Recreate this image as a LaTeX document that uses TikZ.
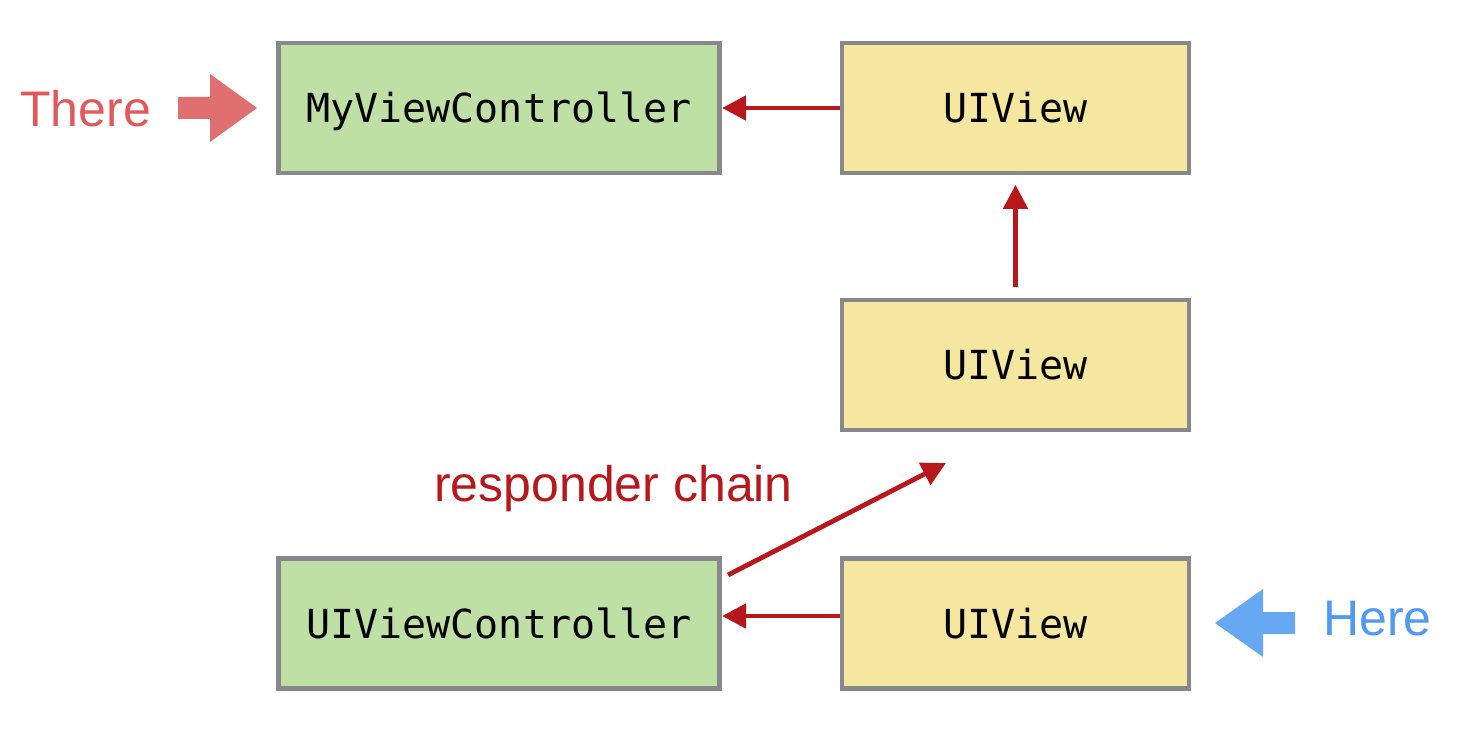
\documentclass[tikz,border=0pt]{standalone}
\usepackage{fontspec}
\setmainfont{Liberation Sans}
\setmonofont{DejaVu Sans Mono}
\usetikzlibrary{arrows.meta}
\definecolor{boxgreen}{RGB}{190,224,165}
\definecolor{boxyellow}{RGB}{246,231,160}
\definecolor{boxgray}{RGB}{136,136,140}
\definecolor{chainred}{RGB}{184,24,28}
\definecolor{therered}{RGB}{224,112,112}
\definecolor{thereText}{RGB}{226,88,92}
\definecolor{hereblue}{RGB}{102,168,242}
\definecolor{hereText}{RGB}{80,154,244}
\tikzset{
  box/.style={draw=boxgray, line width=3.5pt, inner sep=0pt,
    minimum height=97.5pt, font=\fontsize{30}{36}\selectfont\ttfamily,
    text height=21.9pt, text depth=0pt},
  widebox/.style={box, fill=boxgreen, minimum width=331pt},
  narrowbox/.style={box, fill=boxyellow, minimum width=260.25pt},
  chain/.style={draw=chainred, line width=3.6pt,
    -{Triangle[length=18pt,width=18pt]}},
  bigtext/.style={font=\fontsize{37.5}{44}\selectfont, inner sep=0pt, anchor=base west}
}
\begin{document}
\begin{tikzpicture}[x=0.75pt,y=-0.75pt]
\useasboundingbox (0,0) rectangle (1458,730);
\node[widebox] (mvc) at (499,108) {MyViewController};
\node[narrowbox] (v1) at (1015.5,108) {UIView};
\node[narrowbox] (v2) at (1015.5,365) {UIView};
\node[widebox] (uvc) at (499,623.5) {UIViewController};
\node[narrowbox] (v3) at (1015.5,623.5) {UIView};

\draw[chain] (v1.west) -- (mvc.east);
\draw[chain, shorten <=8.25pt, shorten >=7.1pt] (v2.north) -- (v1.south);
\draw[chain] ([yshift=5.6pt]v3.west) -- ([yshift=5.6pt]uvc.east);
\coordinate (chainstart) at (728,575);
\coordinate (chainend) at (946,463);
\draw[chain] (chainstart) -- (chainend);
\node[bigtext, text=chainred] (rc) at (434,501) {responder chain};

\node[bigtext, text=thereText] (there) at (20,127) {There};
\fill[therered] (178,97) -- (210,97) -- (210,74) -- (257,108) -- (210,142) -- (210,119) -- (178,119) -- cycle;

\node[bigtext, text=hereText] (here) at (1323,635) {Here};
\fill[hereblue] (1295,612) -- (1263,612) -- (1263,589) -- (1215,623) -- (1263,657) -- (1263,634) -- (1295,634) -- cycle;
\end{tikzpicture}
\end{document}
